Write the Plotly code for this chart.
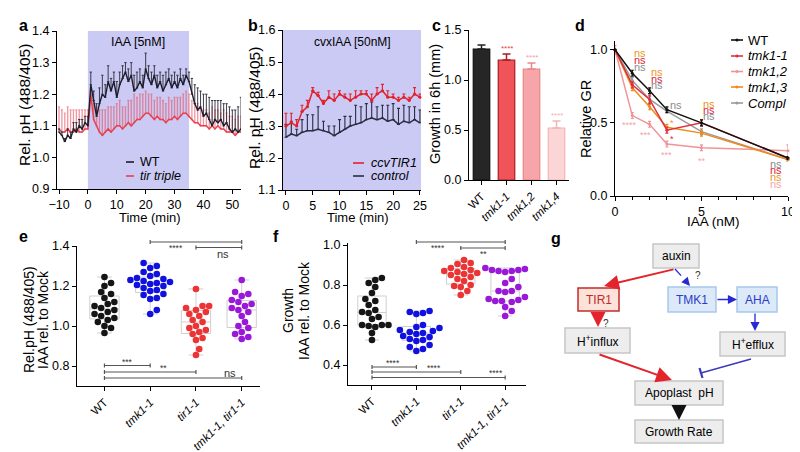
import plotly.graph_objects as go

W, H = 800, 452
FONT = "Liberation Sans, Arial, sans-serif"

# ---------------- data ----------------
# panel a
time_a = [-10, -9, -8, -7, -6, -5, -4, -3, -2, -1,
          0, 1, 2, 3, 4, 5, 6, 7, 8, 9,
          10, 11, 12, 13, 14, 15, 16, 17, 18, 19,
          20, 21, 22, 23, 24, 25, 26, 27, 28, 29,
          30, 31, 32, 33, 34, 35, 36, 37, 38, 39,
          40, 41, 42, 43, 44, 45, 46, 47, 48, 49,
          50, 51, 52, 53]
wt_a = [1.08, 1.07, 1.05, 1.07, 1.06, 1.09, 1.08, 1.10, 1.09, 1.11,
        1.10, 1.23, 1.18, 1.13, 1.17, 1.20, 1.19, 1.24, 1.21, 1.24,
        1.19, 1.23, 1.25, 1.27, 1.24, 1.26, 1.21, 1.22, 1.24, 1.22,
        1.28, 1.25, 1.23, 1.26, 1.22, 1.24, 1.21, 1.23, 1.25, 1.22,
        1.24, 1.22, 1.25, 1.23, 1.26, 1.24, 1.20, 1.17, 1.15, 1.16,
        1.13, 1.14, 1.12, 1.10, 1.12, 1.11, 1.12, 1.10, 1.11, 1.09,
        1.08, 1.09, 1.08, 1.09]
wt_a_err = [0.01, 0.01, 0.01, 0.02, 0.02, 0.02, 0.03, 0.02, 0.03, 0.02,
            0.03, 0.04, 0.03, 0.04, 0.05, 0.06, 0.04, 0.05, 0.04, 0.03,
            0.05, 0.04, 0.04, 0.03, 0.04, 0.04, 0.05, 0.05, 0.04, 0.04,
            0.05, 0.04, 0.04, 0.03, 0.04, 0.03, 0.05, 0.04, 0.03, 0.04,
            0.03, 0.04, 0.03, 0.03, 0.02, 0.03, 0.05, 0.06, 0.07, 0.05,
            0.07, 0.06, 0.07, 0.08, 0.06, 0.07, 0.06, 0.07, 0.06, 0.07,
            0.07, 0.06, 0.08, 0.10]
tir_a = [1.09, 1.08, 1.08, 1.09, 1.08, 1.08, 1.09, 1.08, 1.08, 1.09,
         1.09, 1.20, 1.12, 1.10, 1.08, 1.07, 1.08, 1.09, 1.08, 1.09,
         1.10, 1.10, 1.09, 1.10, 1.11, 1.10, 1.11, 1.12, 1.12, 1.13,
         1.14, 1.14, 1.13, 1.12, 1.13, 1.12, 1.12, 1.11, 1.12, 1.12,
         1.13, 1.12, 1.13, 1.14, 1.14, 1.13, 1.12, 1.11, 1.11, 1.10,
         1.10, 1.10, 1.09, 1.10, 1.09, 1.10, 1.09, 1.09, 1.08, 1.08,
         1.08, 1.07, 1.08, 1.08]
tir_a_err = [0.07, 0.07, 0.06, 0.07, 0.07, 0.07, 0.06, 0.07, 0.07, 0.06,
             0.06, 0.02, 0.05, 0.06, 0.07, 0.08, 0.07, 0.07, 0.08, 0.07,
             0.07, 0.08, 0.07, 0.06, 0.07, 0.08, 0.09, 0.07, 0.08, 0.07,
             0.07, 0.06, 0.07, 0.06, 0.06, 0.07, 0.06, 0.06, 0.07, 0.06,
             0.06, 0.07, 0.06, 0.06, 0.07, 0.07, 0.06, 0.06, 0.06, 0.05,
             0.05, 0.05, 0.05, 0.06, 0.06, 0.05, 0.05, 0.06, 0.06, 0.05,
             0.05, 0.05, 0.05, 0.05]

# panel b
time_b = [0, 1, 2, 3, 4, 5, 6, 7, 8, 9, 10, 11, 12, 13, 14, 15, 16, 17, 18, 19, 20, 21, 22, 23, 24, 25]
ccv_b = [1.30, 1.31, 1.30, 1.345, 1.36, 1.41, 1.395, 1.37, 1.39, 1.38, 1.40, 1.39, 1.38,
         1.39, 1.40, 1.40, 1.38, 1.40, 1.41, 1.39, 1.39, 1.38, 1.39, 1.38, 1.40, 1.39]
ccv_b_err = [0.04, 0.03, 0.02, 0.02, 0.02, 0.01, 0.01, 0.01, 0.02, 0.02, 0.01, 0.01, 0.02,
             0.02, 0.01, 0.01, 0.02, 0.02, 0.02, 0.02, 0.01, 0.01, 0.01, 0.01, 0.02, 0.01]
ctrl_b = [1.265, 1.275, 1.27, 1.28, 1.285, 1.285, 1.29, 1.285, 1.28, 1.27, 1.28, 1.29, 1.30,
          1.305, 1.31, 1.32, 1.325, 1.32, 1.325, 1.315, 1.32, 1.305, 1.315, 1.31, 1.32, 1.31]
ctrl_b_err = [0.04, 0.04, 0.02, 0.04, 0.05, 0.05, 0.07, 0.03, 0.02, 0.03, 0.04, 0.04, 0.03,
              0.06, 0.05, 0.05, 0.05, 0.04, 0.04, 0.05, 0.05, 0.05, 0.05, 0.05, 0.04, 0.04]

# panel c
c_labels = ["WT", "<i>tmk1-1</i>", "<i>tmk1,2</i>", "<i>tmk1,4</i>"]
c_growth = [1.31, 1.20, 1.11, 0.52]
c_err = [0.04, 0.06, 0.06, 0.07]
c_sig = ["", "****", "****", "****"]

# panel d
d_iaa = [0, 1, 2, 3, 5, 10]
d_wt = [1.0, 0.84, 0.72, 0.59, 0.50, 0.26]
d_tmk11 = [1.0, 0.76, 0.66, 0.45, 0.50, 0.26]
d_tmk12 = [1.0, 0.55, 0.49, 0.355, 0.33, 0.31]
d_tmk13 = [1.0, 0.74, 0.61, 0.47, 0.43, 0.25]
d_compl = [1.0, 0.79, 0.66, 0.58, 0.44, 0.25]
d_wt_err = [0.0, 0.02, 0.02, 0.02, 0.02, 0.01]
d_tmk11_err = [0.0, 0.02, 0.03, 0.02, 0.02, 0.01]
d_tmk12_err = [0.03, 0.02, 0.02, 0.02, 0.02, 0.04]
d_tmk13_err = [0.0, 0.02, 0.02, 0.02, 0.02, 0.01]
d_compl_err = [0.0, 0.02, 0.02, 0.01, 0.02, 0.01]

# panels e, f
ef_labels = ["WT", "<i>tmk1-1</i>", "<i>tir1-1</i>", "<i>tmk1-1, tir1-1</i>"]
e_wt = [1.245, 1.215, 1.20, 1.17, 1.16, 1.14, 1.12, 1.11, 1.10, 1.09,
        1.08, 1.07, 1.06, 1.05, 1.04, 1.03, 1.02, 1.00, 0.99, 0.965]
e_tmk = [1.315, 1.30, 1.29, 1.27, 1.26, 1.25, 1.24, 1.235, 1.23, 1.225, 1.22, 1.215,
         1.21, 1.205, 1.20, 1.19, 1.18, 1.175, 1.16, 1.155, 1.14, 1.135, 1.08, 1.06]
e_tir = [1.185, 1.10, 1.10, 1.09, 1.08, 1.07, 1.06, 1.05, 1.03, 1.02,
         1.00, 0.99, 0.98, 0.97, 0.96, 0.94, 0.93, 0.885, 0.855]
e_dbl = [1.23, 1.17, 1.16, 1.15, 1.13, 1.12, 1.11, 1.10, 1.09, 1.08,
         1.07, 1.05, 1.02, 1.00, 0.99, 0.97, 0.96, 0.945, 0.935]
f_wt = [0.835, 0.825, 0.81, 0.79, 0.76, 0.73, 0.72, 0.70, 0.675, 0.665,
        0.66, 0.64, 0.63, 0.60, 0.60, 0.60, 0.595, 0.59, 0.56, 0.525]
f_tmk = [0.67, 0.665, 0.66, 0.655, 0.60, 0.59, 0.585, 0.575, 0.57, 0.565, 0.56,
         0.555, 0.545, 0.54, 0.53, 0.525, 0.52, 0.50, 0.49, 0.48, 0.47]
f_tir = [0.925, 0.91, 0.905, 0.89, 0.885, 0.875, 0.87, 0.865, 0.86, 0.855,
         0.85, 0.84, 0.83, 0.82, 0.80, 0.795, 0.79, 0.77, 0.75]
f_dbl = [0.885, 0.88, 0.875, 0.875, 0.87, 0.87, 0.865, 0.83, 0.81, 0.79, 0.77,
         0.77, 0.765, 0.74, 0.73, 0.725, 0.72, 0.72, 0.715, 0.69, 0.67, 0.645]

# ---------------- helpers ----------------
def X(p):
    return p / W


def Y(p):
    return 1 - p / H


def dx(a, b):
    return [a / W, b / W]


def dy(top, bottom):
    return [1 - bottom / H, 1 - top / H]


def axstyle(**kw):
    d = dict(showline=True, linecolor="black", linewidth=1.2, ticks="outside", ticklen=4,
             tickwidth=1.2, tickcolor="black", showgrid=False, zeroline=False,
             tickfont=dict(family=FONT, size=12.5, color="black"), automargin=False,
             fixedrange=True, layer="above traces")
    d.update(kw)
    return d


annotations = []
shapes = []


def text(xp, yp, s, size=12.5, color="black", xa="center", ya="middle", angle=0, **kw):
    annotations.append(dict(x=X(xp), y=Y(yp), xref="paper", yref="paper", text=s, showarrow=False,
                            xanchor=xa, yanchor=ya, textangle=angle,
                            font=dict(family=FONT, size=size, color=color), **kw))


def line(x0, y0, x1, y1, color="black", width=1.2, dash="solid"):
    shapes.append(dict(type="line", xref="paper", yref="paper", x0=X(x0), y0=Y(y0), x1=X(x1), y1=Y(y1),
                       line=dict(color=color, width=width, dash=dash), layer="above"))


def rect(x0, y0, x1, y1, fill, border, width=1.5):
    shapes.append(dict(type="rect", xref="paper", yref="paper", x0=X(x0), y0=Y(y0), x1=X(x1), y1=Y(y1),
                       fillcolor=fill, line=dict(color=border, width=width), layer="above"))


def dot(xc, yc, r, color):
    shapes.append(dict(type="circle", xref="paper", yref="paper", x0=X(xc - r), y0=Y(yc + r),
                       x1=X(xc + r), y1=Y(yc - r), fillcolor=color, line=dict(width=0), layer="above"))


def arrow(tx, ty, hx, hy, color, width=2, size=1.0, head=2):
    annotations.append(dict(x=X(hx), y=Y(hy), xref="paper", yref="paper", ax=tx - hx, ay=ty - hy,
                            axref="pixel", ayref="pixel", text="", showarrow=True, arrowhead=head,
                            arrowsize=size, arrowwidth=width, arrowcolor=color, standoff=0))


def swarm(vals, ppu_x, ppu_y, diam):
    order = sorted(range(len(vals)), key=lambda i: vals[i])
    placed = []
    offs = [0.0] * len(vals)
    cands = [0.0]
    for j in range(1, 40):
        cands += [j * diam * 0.5, -j * diam * 0.5]
    for i in order:
        yp = vals[i] * ppu_y
        for c in cands:
            if all((c - px) ** 2 + (yp - py) ** 2 >= (diam * 0.98) ** 2 for px, py in placed):
                break
        placed.append((c, yp))
        offs[i] = c / ppu_x
    return offs


fig = go.Figure()

# ---------------- panel a ----------------
fig.add_trace(go.Scatter(x=time_a, y=tir_a, mode="lines", line=dict(color="#e8404c", width=1.5),
                         error_y=dict(type="data", symmetric=False, array=tir_a_err,
                                      arrayminus=[0] * len(tir_a_err), color="rgba(232,80,96,0.6)",
                                      thickness=1.3, width=1),
                         xaxis="x", yaxis="y", showlegend=False, cliponaxis=False))
fig.add_trace(go.Scatter(x=time_a, y=wt_a, mode="lines", line=dict(color="#1c1c2c", width=1.4),
                         error_y=dict(type="data", symmetric=False, array=wt_a_err,
                                      arrayminus=[0] * len(wt_a_err), color="#2a2a38",
                                      thickness=0.9, width=1.2),
                         xaxis="x", yaxis="y", showlegend=False, cliponaxis=False))
shapes.append(dict(type="rect", xref="x", yref="y domain", x0=0, x1=35, y0=0, y1=1,
                   fillcolor="#cacaf4", line=dict(width=0), layer="below"))

# ---------------- panel b ----------------
shapes.append(dict(type="rect", xref="x2 domain", yref="y2 domain", x0=0, x1=1, y0=0, y1=1,
                   fillcolor="#cacaf4", line=dict(width=0), layer="below"))
fig.add_trace(go.Scatter(x=time_b, y=ctrl_b, mode="lines", line=dict(color="#2c2c40", width=1.5),
                         error_y=dict(type="data", symmetric=False, array=ctrl_b_err,
                                      arrayminus=[0] * len(ctrl_b_err), color="#2c2c40",
                                      thickness=1.1, width=1.5),
                         xaxis="x2", yaxis="y2", showlegend=False, cliponaxis=False))
fig.add_trace(go.Scatter(x=time_b, y=ccv_b, mode="lines+markers", line=dict(color="#e3202c", width=1.5),
                         marker=dict(size=3, color="#e3202c"),
                         error_y=dict(type="data", symmetric=False, array=ccv_b_err,
                                      arrayminus=[0] * len(ccv_b_err), color="#e3202c",
                                      thickness=1.1, width=1.5),
                         xaxis="x2", yaxis="y2", showlegend=False, cliponaxis=False))

# ---------------- panel c ----------------
c_fill = ["#262626", "#f05458", "#f6a6a8", "#fcd6d6"]
c_line = ["#111111", "#a81c22", "#e88888", "#f4b4b6"]
c_star = ["#000000", "#e8404c", "#f4a0a6", "#f4b0b4"]
for i in range(4):
    fig.add_trace(go.Bar(x=[i], y=[c_growth[i]], width=0.66,
                         marker=dict(color=c_fill[i], line=dict(color=c_line[i], width=1.2)),
                         error_y=dict(type="data", symmetric=False, array=[c_err[i]], arrayminus=[0],
                                      color=c_line[i] if i else "#222222", thickness=1.5, width=4),
                         xaxis="x3", yaxis="y3", showlegend=False))
    if c_sig[i]:
        annotations.append(dict(x=i, y=c_growth[i] + c_err[i] + 0.05, xref="x3", yref="y3",
                                text=c_sig[i], showarrow=False,
                                font=dict(family=FONT, size=8, color=c_star[i])))

# ---------------- panel d ----------------
d_series = [("Compl", d_compl, d_compl_err, "#9a9a9a"),
            ("tmk1,2", d_tmk12, d_tmk12_err, "#f09498"),
            ("tmk1,3", d_tmk13, d_tmk13_err, "#ee8a1c"),
            ("tmk1-1", d_tmk11, d_tmk11_err, "#e0303c"),
            ("WT", d_wt, d_wt_err, "#111111")]
for name, vals, err, col in d_series:
    fig.add_trace(go.Scatter(x=d_iaa, y=vals, mode="lines+markers", line=dict(color=col, width=1.5),
                             marker=dict(size=3, color=col),
                             error_y=dict(type="data", array=err, color=col, thickness=1.2, width=1.5),
                             xaxis="x4", yaxis="y4", showlegend=False, cliponaxis=False))

ORANGE, RED, GRAY, PINK = "#ee9420", "#d8283a", "#8a8a8a", "#f2a4aa"
d_marks = [(1.45, 0.975, "ns", ORANGE), (1.45, 0.93, "ns", RED), (1.45, 0.885, "ns", GRAY),
           (2.45, 0.845, "ns", ORANGE), (2.45, 0.80, "ns", RED), (2.45, 0.76, "ns", GRAY),
           (3.5, 0.625, "ns", GRAY),
           (5.45, 0.63, "ns", ORANGE), (5.45, 0.585, "ns", RED), (5.45, 0.545, "ns", GRAY),
           (9.3, 0.22, "ns", GRAY), (9.3, 0.175, "ns", RED), (9.3, 0.13, "ns", ORANGE), (9.3, 0.085, "ns", PINK),
           (0.85, 0.485, "****", PINK), (1.75, 0.42, "***", PINK), (2.95, 0.28, "***", PINK),
           (5.0, 0.24, "**", PINK), (3.27, 0.50, "*", ORANGE), (3.27, 0.39, "*", RED)]
for xx, yy, s, col in d_marks:
    annotations.append(dict(x=xx, y=yy, xref="x4", yref="y4", text=s, showarrow=False,
                            font=dict(family=FONT, size=11 if s == "ns" else 9, color=col)))

# ---------------- panels e, f ----------------
e_sets = [(e_wt, "#151515"), (e_tmk, "#1010e0"), (e_tir, "#ec3434"), (e_dbl, "#9a18d8")]
f_sets = [(f_wt, "#151515"), (f_tmk, "#1010e0"), (f_tir, "#ec3434"), (f_dbl, "#9a18d8")]
for sets, xa, ya, ppux, ppuy in [(e_sets, "x5", "y5", 45.75, 200.0), (f_sets, "x6", "y6", 44.4, 200.0)]:
    for i, (vals, col) in enumerate(sets):
        fig.add_trace(go.Box(x=[i] * len(vals), y=vals, boxpoints=False, fillcolor="rgba(0,0,0,0)",
                             line=dict(color="#cfcfcf", width=1), width=0.64, whiskerwidth=0.5,
                             xaxis=xa, yaxis=ya, showlegend=False, hoverinfo="skip"))
        offs = swarm(vals, ppux, ppuy, 6.6)
        fig.add_trace(go.Scatter(x=[i + o for o in offs], y=vals, mode="markers",
                                 marker=dict(size=6.6, color=col), xaxis=xa, yaxis=ya,
                                 showlegend=False, cliponaxis=False))


def cat_e(c):
    return 69 + (c + 0.6) * 45.75


def cat_f(c):
    return 340 + (c + 0.54) * 44.4


def bracket(x0, x1, yp, color="#555555"):
    line(x0, yp, x1, yp, color, 1.2)
    line(x0, yp - 2, x0, yp + 2, color, 1.2)
    line(x1, yp - 2, x1, yp + 2, color, 1.2)


SIG = "#333333"
for c0, c1, yp, lab, lx, ly in [(1, 3, 234, "****", 168, 240), (2, 3, 239.5, "ns", 215, 246),
                                (0, 1, 357.5, "***", 119, 354), (0, 2, 364, "**", 155, 360),
                                (0, 3, 370, "ns", 222, 365)]:
    bracket(cat_e(c0), cat_e(c1), yp)
    text(lx, ly, lab, size=11 if lab == "ns" else 8.5, color=SIG)
for c0, c1, yp, lab, lx, ly in [(1, 3, 234, "****", 430, 240), (2, 3, 240, "**", 475, 246),
                                (0, 1, 359, "****", 385, 355), (0, 2, 364, "****", 426, 360),
                                (0, 3, 369.5, "****", 488, 365)]:
    bracket(cat_f(c0), cat_f(c1), yp)
    text(lx, ly, lab, size=8.5, color=SIG)

# ---------------- axes ----------------
rot_font = dict(family=FONT, size=11.5, color="black")
fig.update_layout(
    xaxis=axstyle(domain=dx(49, 233), range=[-10.7, 53], tickvals=[-10, 0, 10, 20, 30, 40, 50], anchor="y"),
    yaxis=axstyle(domain=dy(23, 181), range=[0.9, 1.4], tickvals=[0.9, 1.0, 1.1, 1.2, 1.3, 1.4],
                  tickformat=".1f", anchor="x"),
    xaxis2=axstyle(domain=dx(275, 413), range=[-0.55, 25.2], tickvals=[0, 5, 10, 15, 20, 25], anchor="y2"),
    yaxis2=axstyle(domain=dy(22, 182), range=[1.1, 1.6], tickvals=[1.1, 1.2, 1.3, 1.4, 1.5, 1.6],
                   tickformat=".1f", anchor="x2"),
    xaxis3=axstyle(domain=dx(461, 561), range=[-0.5, 3.5], tickvals=[0, 1, 2, 3], ticktext=c_labels,
                   tickangle=-45, anchor="y3", tickfont=rot_font),
    yaxis3=axstyle(domain=dy(22, 172), range=[0, 1.5], tickvals=[0, 0.5, 1.0, 1.5], tickformat=".1f",
                   anchor="x3"),
    xaxis4=axstyle(domain=dx(607, 780), range=[0, 10], tickvals=[0, 5, 10], anchor="y4",
                   minor=dict(ticks="outside", dtick=1, ticklen=3, tickwidth=1.2, tickcolor="black")),
    yaxis4=axstyle(domain=dy(33, 188), range=[0, 1.06], tickvals=[0, 0.5, 1.0], tickformat=".1f",
                   anchor="x4"),
    xaxis5=axstyle(domain=dx(69, 252), range=[-0.6, 3.4], tickvals=[0, 1, 2, 3], ticktext=ef_labels,
                   tickangle=-45, anchor="y5", tickfont=rot_font),
    yaxis5=axstyle(domain=dy(238, 378), range=[0.7, 1.4], tickvals=[0.8, 1.0, 1.2, 1.4],
                   tickformat=".1f", anchor="x5"),
    xaxis6=axstyle(domain=dx(340, 518), range=[-0.54, 3.47], tickvals=[0, 1, 2, 3], ticktext=ef_labels,
                   tickangle=-45, anchor="y6", tickfont=rot_font),
    yaxis6=axstyle(domain=dy(235, 377), range=[0.3, 1.01], tickvals=[0.4, 0.6, 0.8, 1.0],
                   tickformat=".1f", anchor="x6"),
)

# ---------------- titles, labels, legends ----------------
for s, xp, yp in [("a", 15, 18), ("b", 245, 18), ("c", 428, 18), ("d", 572, 18),
                  ("e", 15, 229), ("f", 268, 229), ("g", 548, 230)]:
    annotations.append(dict(x=X(xp), y=Y(yp), xref="paper", yref="paper", text="<b>%s</b>" % s,
                            showarrow=False, xanchor="center", yanchor="middle",
                            font=dict(family=FONT, size=16, color="black")))

text(17, 97, "Rel. pH (488/405)", size=15.5, angle=-90)
text(142, 209, "Time (min)", size=13)
text(130, 34, "IAA [5nM]", size=12.5)
text(246, 100, "Rel. pH (488/405)", size=15.5, angle=-90)
text(350, 210, "Time (min)", size=13)
text(344, 34, "cvxIAA [50nM]", size=12)
text(427, 96, "Growth in 6h (mm)", size=14.5, angle=-90)
text(578, 111, "Relative GR", size=14.5, angle=-90)
text(705, 214, "IAA (nM)", size=13.5)
text(21, 312, "Rel.pH (488/405)", size=14, angle=-90)
text(35, 312, "IAA rel. to Mock", size=14, angle=-90)
text(280, 303, "Growth", size=14, angle=-90)
text(296, 303, "IAA rel. to Mock", size=14, angle=-90)

# legend a
line(118, 154, 126, 154, "#1c1c2c", 1.6)
text(130, 154, "WT", size=12.5, xa="left")
line(118, 168, 126, 168, "#e8404c", 1.6)
text(130, 168, "<i>tir triple</i>", size=12.5, xa="left")
# legend b
line(345, 155, 356, 155, "#e3202c", 1.6)
text(361, 155, "<i>ccvTIR1</i>", size=12.5, xa="left")
line(345, 168, 356, 168, "#2c2c40", 1.6)
text(361, 168, "<i>control</i>", size=12.5, xa="left")
# legend d
for lab, col, yp in [("WT", "#111111", 32), ("<i>tmk1-1</i>", "#e0303c", 48),
                     ("<i>tmk1,2</i>", "#f09498", 63.5), ("<i>tmk1,3</i>", "#ee8a1c", 79),
                     ("<i>Compl</i>", "#9a9a9a", 95)]:
    line(723, yp, 735, yp, col, 1.6)
    dot(729, yp, 1.5, col)
    text(738, yp, lab, size=13, xa="left")

# ---------------- panel g (diagram) ----------------
GF, GB = "#ededed", "#c6c6c6"
rect(645, 236, 691, 260, GF, GB)
text(668, 248, "auxin", size=12)
rect(570, 280, 611, 303, "#fde2da", "#c42a2a")
text(590.5, 291.5, "TIR1", size=12, color="#c42a2a")
rect(660, 279, 708, 304, "#dbe9f8", "#a8c8ec")
text(684, 291.5, "TMK1", size=12, color="#2a3cc8")
rect(729, 279, 769, 304, "#dbe9f8", "#a8c8ec")
text(749, 291.5, "AHA", size=12, color="#2a3cc8")
rect(557, 320, 622, 345, GF, GB)
text(589.5, 332.5, "H<sup>+</sup>influx", size=12)
rect(712, 324, 777, 348, GF, GB)
text(744.5, 336, "H<sup>+</sup>efflux", size=12)
rect(627, 373, 715, 397, GF, GB)
text(671, 385, "Apoplast  pH", size=12)
rect(627, 412, 715, 435, GF, GB)
text(671, 423.5, "Growth Rate", size=12)

REDA, BLUEA = "#e4242c", "#2828d4"
arrow(667, 261, 596, 278, REDA, width=2, size=1.5)
line(667, 261, 678, 273, BLUEA, 1.3, "dash")
arrow(676, 271, 682, 278, BLUEA, width=1.3, size=1.3)
text(690, 267, "?", size=10, color="#333333")
arrow(590, 303, 590, 319, REDA, width=2, size=1.5)
text(598, 315, "?", size=10, color="#333333")
arrow(708, 291.5, 729, 291.5, BLUEA, width=1.3, size=1.4)
arrow(747, 304, 747, 323, BLUEA, width=1.3, size=1.4)
arrow(590, 346, 664, 372, REDA, width=2, size=1.6)
line(743, 351, 693, 365, "#3a3ab8", 1.4)
line(691.5, 360, 694.5, 370, "#3a3ab8", 2.2)
arrow(671, 397, 671, 412, "#111111", width=2, size=1.5)

fig.update_layout(
    width=W, height=H, margin=dict(l=0, r=0, t=0, b=0), template="none",
    paper_bgcolor="white", plot_bgcolor="white", showlegend=False,
    font=dict(family=FONT, size=12.5, color="black"),
    bargap=0.3, annotations=annotations, shapes=shapes,
)

fig.write_html("out.html")
